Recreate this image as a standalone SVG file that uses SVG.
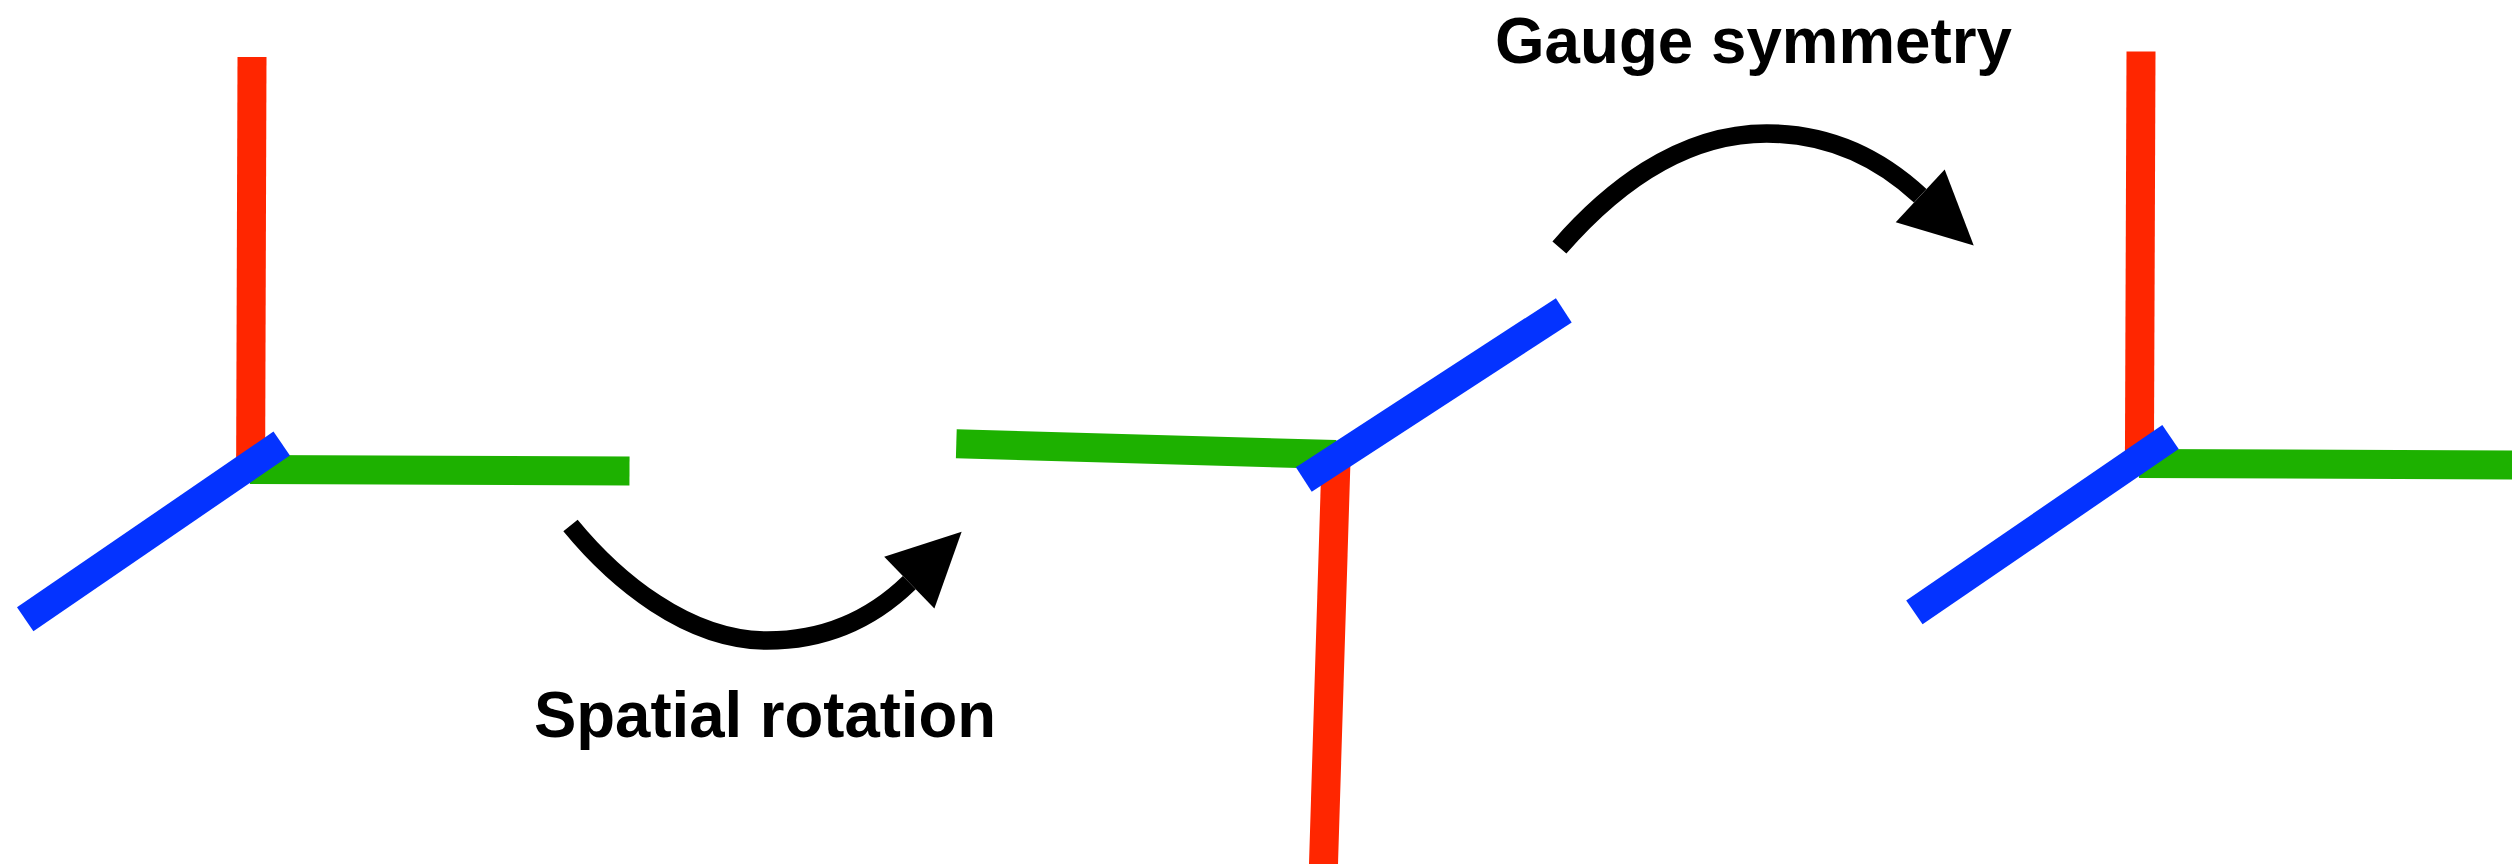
<svg xmlns="http://www.w3.org/2000/svg" width="2512" height="864" viewBox="0 0 2512 864">
  <style>
    .ax { stroke-width: 29; stroke-linecap: butt; fill: none; }
    .x { stroke: #FF2600; }
    .y { stroke: #1DB100; }
    .z { stroke: #0433FF; }
    .conn { stroke: #000000; stroke-width: 18.5; fill: none; stroke-linecap: butt; }
    .lbl { font-family: "Liberation Sans", Arial, Helvetica, sans-serif; font-weight: bold; font-size: 64px; fill: #000000; }
  </style>
  <defs>
    <marker id="ah" markerUnits="userSpaceOnUse" markerWidth="76" markerHeight="76" viewBox="-1 -38 76 76" refX="0" refY="0" orient="auto">
      <path d="M0,-36 L73,0 L0,36 Z" fill="#000000"/>
    </marker>
  </defs>
  <rect width="2512" height="864" fill="#FFFFFF"/>

  <g id="frame-left">
    <line class="ax x" x1="252" y1="57" x2="250.6" y2="470"/>
    <line class="ax y" x1="250" y1="469.5" x2="629.5" y2="471"/>
    <line class="ax z" x1="25.2" y1="619.3" x2="281.7" y2="443.5"/>
  </g>

  <g id="frame-middle">
    <line class="ax y" x1="956.3" y1="443.8" x2="1336" y2="454.5"/>
    <line class="ax x" x1="1336" y1="460" x2="1323" y2="880"/>
    <line class="ax z" x1="1303.8" y1="479.5" x2="1563.8" y2="310.3"/>
  </g>

  <g id="frame-right">
    <line class="ax x" x1="2141" y1="51.5" x2="2139.4" y2="464"/>
    <line class="ax y" x1="2139" y1="463.5" x2="2530" y2="465"/>
    <line class="ax z" x1="1914.4" y1="612.4" x2="2170.5" y2="437"/>
  </g>

  <g id="connectors">
    <path id="arrow-spatial" class="conn" marker-end="url(#ah)" d="M570.5,525.5 C614.9,579.6 687,640.5 767,640.5 C832,640.5 877,614 909.3,582.6"/>
    <path id="arrow-gauge" class="conn" marker-end="url(#ah)" d="M1559.4,247.5 C1605.4,194.7 1676.7,133.5 1766.7,133.5 C1836.7,133.5 1887.2,165.2 1920.2,195.8"/>
  </g>

  <g id="labels">
    <text class="lbl" x="534" y="737" textLength="462" lengthAdjust="spacingAndGlyphs">Spatial rotation</text>
    <text class="lbl" x="1495" y="62.5" textLength="517" lengthAdjust="spacingAndGlyphs">Gauge symmetry</text>
  </g>
</svg>
